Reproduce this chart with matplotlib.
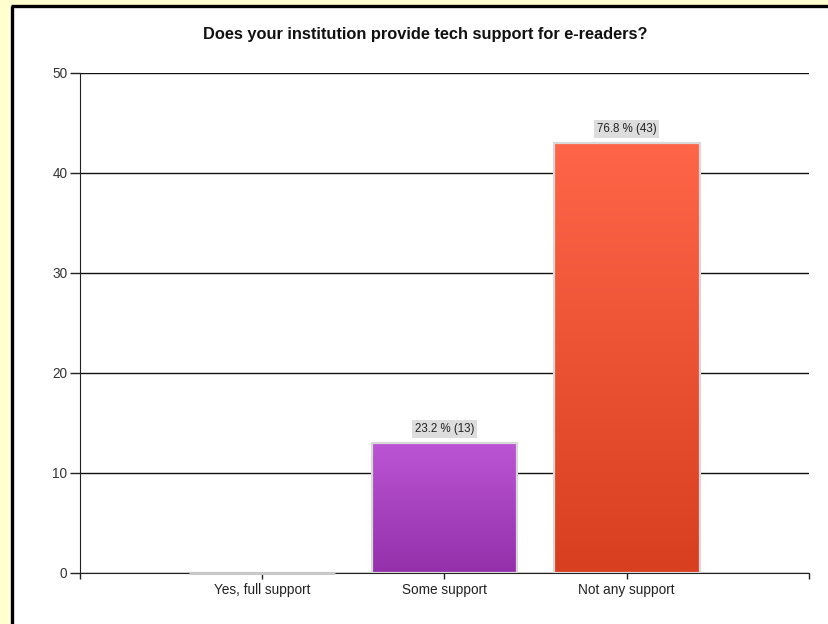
import matplotlib
matplotlib.use("Agg")
import matplotlib.pyplot as plt
import numpy as np
from matplotlib.patches import Rectangle
from matplotlib.colors import LinearSegmentedColormap

plt.rcParams['font.family'] = ['Liberation Sans', 'DejaVu Sans']

title = "Does your institution provide tech support for e-readers?"
categories = ["Yes, full support", "Some support", "Not any support"]
counts = [0, 13, 43]
percents = [0.0, 23.2, 76.8]
top_colors = ["#C0C0C0", "#BC55D4", "#FF6649"]
bottom_colors = ["#A0A0A0", "#9330AA", "#D83F20"]
yticks = [0, 10, 20, 30, 40, 50]

fig = plt.figure(figsize=(8.29, 6.24), dpi=100)
fig.patch.set_facecolor("#FFFFD0")
# white panel with black left/top border
fig.patches.append(Rectangle((14/829, -0.1), 1.2, 1 - 7/624 + 0.1, transform=fig.transFigure,
                             facecolor="white", edgecolor="none", zorder=-5))
fig.lines.append(plt.Line2D([12.5/829, 12.5/829], [-0.1, 1 - 5.5/624], transform=fig.transFigure,
                            color="black", lw=2.4, solid_capstyle="butt", zorder=-4))
fig.lines.append(plt.Line2D([11/829, 1.1], [1 - 6/624, 1 - 6/624], transform=fig.transFigure,
                            color="black", lw=2.4, solid_capstyle="butt", zorder=-4))

ax = fig.add_axes([80/829, 51/624, 729/829, 500/624])
ax.set_facecolor("none")
x = np.arange(1, len(categories) + 1)
width = 0.8
bars = ax.bar(x, counts, width=width, color="none", edgecolor="#D8D8D8", linewidth=1.6, zorder=3)
for b, tc, bc in zip(bars, top_colors, bottom_colors):
    h = b.get_height()
    if h <= 0:
        # zero-height bar: only its light outline shows on the baseline
        ax.hlines(0, b.get_x(), b.get_x() + b.get_width(), color="#C8C8C8", lw=2.2,
                  zorder=3, clip_on=False)
        continue
    cmap = LinearSegmentedColormap.from_list("g", [bc, tc])
    grad = np.linspace(0, 1, 256).reshape(-1, 1)
    im = ax.imshow(grad, cmap=cmap, aspect="auto", origin="lower",
                   extent=[b.get_x(), b.get_x() + b.get_width(), 0, h], zorder=2)
    im.set_clip_path(b)

for xi, c, p in zip(x, counts, percents):
    if c <= 0:
        continue
    ax.annotate(f"{p:.1f} % ({c})", (xi, c), xytext=(0, 6), textcoords="offset points",
                ha="center", va="bottom", fontsize=8.3, color="#222222",
                bbox=dict(boxstyle="square,pad=0.25", facecolor="#DDDDDD", edgecolor="none"),
                zorder=5)

ax.set_xlim(0, len(categories) + 1)
ax.set_ylim(0, 50)
ax.set_yticks(yticks)
ax.set_xticks(x)
ax.set_xticklabels(categories)
ax.set_xticks([0, len(categories) + 1], minor=True)
ax.yaxis.grid(True, color="#111111", linewidth=1.0, zorder=1)
ax.set_axisbelow(True)
for s in ["top", "right"]:
    ax.spines[s].set_visible(False)
ax.spines["left"].set_color("#222222")
ax.spines["bottom"].set_color("#222222")
ax.tick_params(axis="y", length=7, width=1, color="#222222", labelsize=9.8, labelcolor="#333333", pad=2)
ax.tick_params(axis="x", which="both", length=4, width=1, color="#222222", labelsize=9.8,
               labelcolor="#222222", pad=3)

fig.text(0.5 * (203 + 647) / 829, 1 - 34/624, title, ha="center", va="center",
         fontsize=11.8, fontweight="bold", color="#111111")

fig.savefig("out.png", dpi=100, facecolor=fig.get_facecolor())
